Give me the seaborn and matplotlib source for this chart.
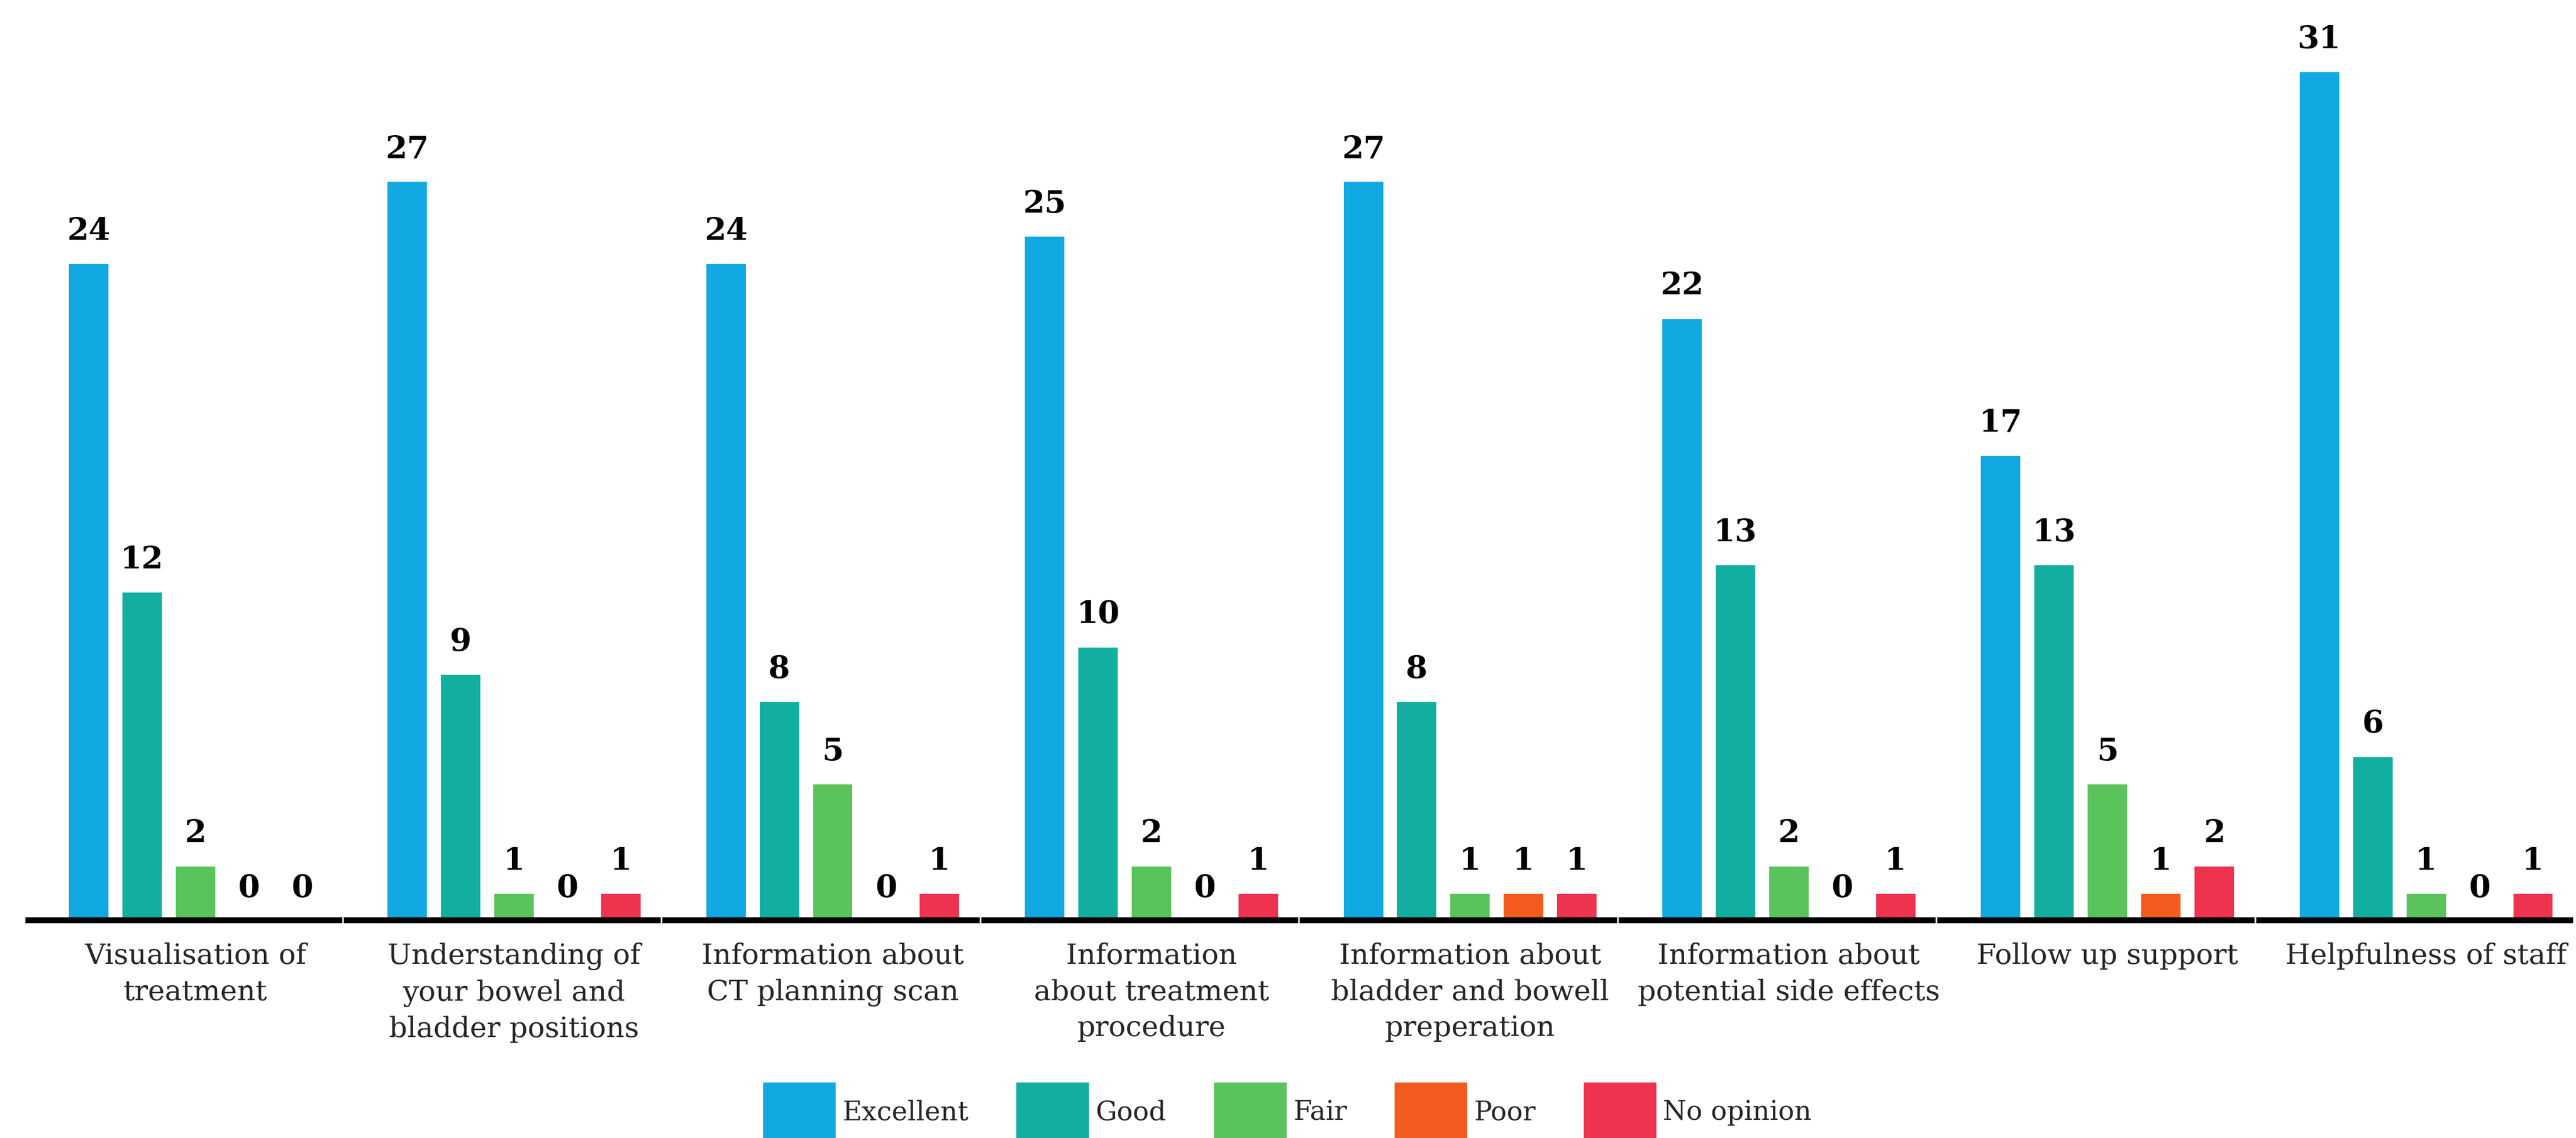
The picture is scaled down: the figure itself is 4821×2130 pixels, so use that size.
import pandas as pd
import numpy as np
import seaborn as sns
import matplotlib.pyplot as plt

# survey questions (line breaks as in the original layout)
questions = [
    'Visualisation of\ntreatment',
    'Understanding of\nyour bowel and\nbladder positions',
    'Information about\nCT planning scan',
    'Information\nabout treatment\nprocedure',
    'Information about\nbladder and bowell\npreperation',
    'Information about\npotential side effects',
    'Follow up support',
    'Helpfulness of staff',
]
ratings = ['Excellent', 'Good', 'Fair', 'Poor', 'No opinion']

excellent = [24, 27, 24, 25, 27, 22, 17, 31]
good = [12, 9, 8, 10, 8, 13, 13, 6]
fair = [2, 1, 5, 2, 1, 2, 5, 1]
poor = [0, 0, 0, 0, 1, 0, 1, 0]
no_opinion = [0, 1, 1, 1, 1, 1, 2, 1]

colors = ['#11A9E1', '#12AE9F', '#5AC35C', '#F25B1D', '#EE334F']

# long format for seaborn
rows = []
for rating, vals in zip(ratings, [excellent, good, fair, poor, no_opinion]):
    for q, v in zip(questions, vals):
        rows.append({'question': q, 'rating': rating, 'count': v})
df = pd.DataFrame(rows)

sns.set_theme(style='white')
plt.rcParams['font.family'] = ['DejaVu Serif', 'DejaVu Sans']

fig = plt.figure(figsize=(4821 / 300, 2130 / 300), dpi=300)
ax = fig.add_axes([0, 0.1915, 1, 0.8085])

sns.barplot(data=df, x='question', y='count', hue='rating', order=questions,
            hue_order=ratings, palette=colors, width=0.8376, gap=0.22,
            saturation=1, legend=True, ax=ax)

for cont in ax.containers:
    ax.bar_label(cont, fmt='%d', padding=7.5, fontsize=14, fontweight='bold',
                 color='black')

# segmented baseline, one piece per question
for i in range(len(questions)):
    ax.hlines(0, i - 0.535, i + 0.46, color='black', linewidth=2.6,
              clip_on=False, zorder=5)

ax.set_xlim(-0.613, 7.47)
ax.set_ylim(0, 33.6)
ax.set_xlabel('')
ax.set_ylabel('')
ax.set_yticks([])
ax.tick_params(axis='x', length=0, pad=10, labelsize=12.8)
for lab in ax.get_xticklabels():
    lab.set_linespacing(1.42)
sns.despine(ax=ax, left=True, bottom=True)

handles, labels = ax.get_legend_handles_labels()
ax.get_legend().remove()
fig.legend(handles, labels, loc='center', bbox_to_anchor=(0.4995, 0.0225),
           ncol=5, frameon=False, fontsize=12, handlelength=2.8,
           handleheight=3.2, handletextpad=0.2, columnspacing=1.75,
           borderpad=0, borderaxespad=0)

fig.savefig('out.png', dpi=300)
